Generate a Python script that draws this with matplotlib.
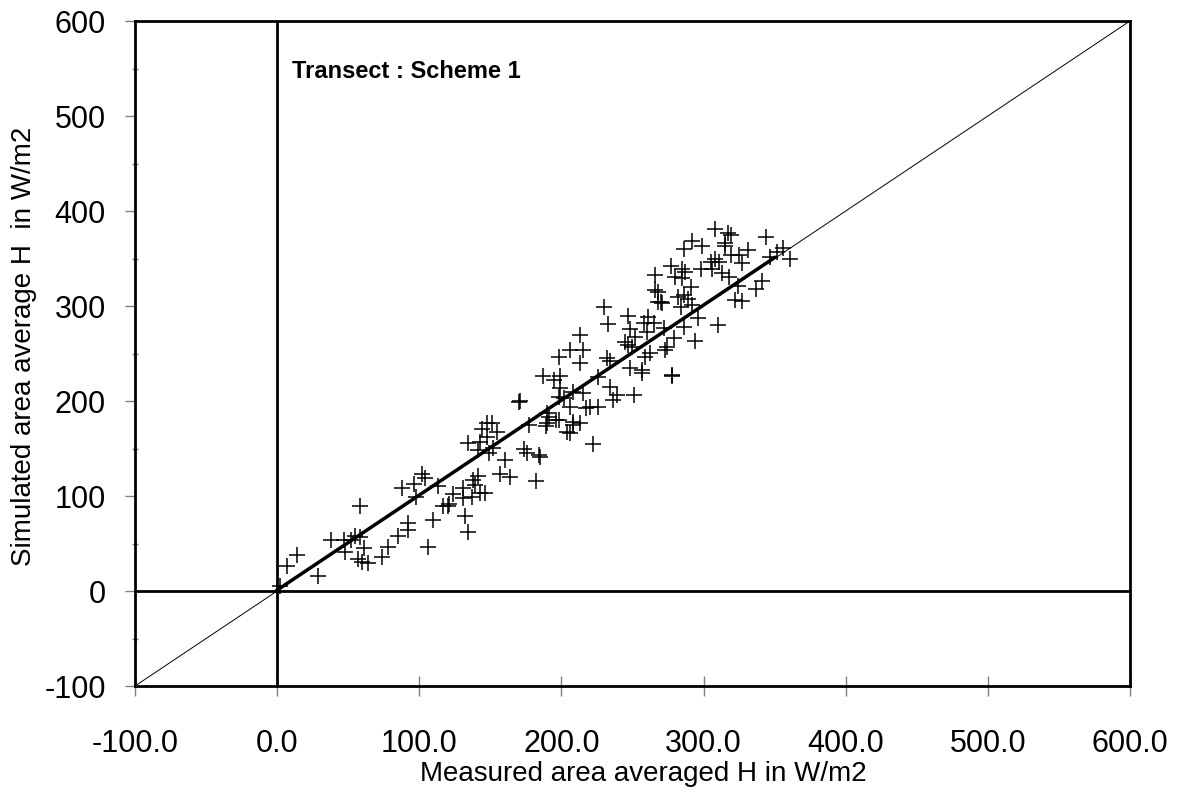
import matplotlib.pyplot as plt
from matplotlib.ticker import MultipleLocator, FormatStrFormatter

# measured vs simulated area averaged H (W/m2)
measured = [
    2, 7, 14, 29, 38, 47, 48, 52, 55, 58, 58, 61, 57, 60, 64, 74, 78, 85, 92, 92,
    106, 110, 88, 96, 102, 104, 98, 113, 117,
    187, 195, 199, 199, 198, 202, 170, 171, 190, 190, 196, 204, 177, 148, 151, 144,
    155, 148, 134, 143, 141, 152, 149, 174, 176, 185, 160, 157, 164, 182, 141, 138,
    139, 131, 143, 146, 124, 131, 137, 121, 120, 132, 134,
    268, 268, 271, 282, 230, 233, 247, 248, 261, 258, 265, 260, 252, 245, 247, 250,
    272, 279, 274, 273, 262, 259, 232, 234, 248, 257, 278, 213, 206, 215, 198, 213,
    226, 234, 239, 251, 236, 208, 215, 206, 217, 220, 226, 191, 198, 189, 208, 213,
    208, 206, 222, 184,
    308, 317, 319, 315, 315, 344, 292, 299, 286, 331, 319, 325, 327, 308, 305, 311,
    347, 356, 352, 361, 277, 285, 287, 298, 306, 266, 280, 285, 313, 318, 291, 266,
    270, 286, 289, 292, 284, 324, 341, 337, 322, 327, 296, 310, 286, 294, 257, 278,
]
simulated = [
    5, 26, 38, 16, 54, 54, 41, 54, 58, 57, 90, 45, 34, 31, 30, 36, 46, 58, 72, 64,
    46, 75, 108, 113, 123, 119, 99, 111, 89,
    226, 222, 226, 214, 204, 203, 199, 200, 187, 177, 180, 167, 175, 177, 177, 171,
    167, 162, 156, 157, 148, 151, 145, 149, 145, 141, 138, 123, 120, 116, 121, 117,
    112, 108, 103, 103, 102, 98, 99, 92, 89, 79, 62,
    315, 304, 303, 309, 299, 281, 290, 276, 288, 282, 282, 273, 267, 262, 259, 257,
    277, 266, 257, 254, 251, 246, 245, 242, 235, 233, 226, 270, 254, 254, 246, 240,
    225, 215, 206, 206, 201, 210, 208, 194, 193, 194, 194, 183, 180, 174, 178, 177,
    175, 166, 155, 143,
    381, 377, 375, 366, 363, 373, 368, 363, 360, 359, 354, 354, 345, 349, 346, 346,
    352, 361, 357, 350, 342, 339, 336, 339, 339, 333, 331, 329, 335, 331, 320, 317,
    304, 312, 307, 301, 299, 321, 326, 318, 306, 305, 287, 280, 278, 263, 229, 227,
]

# fitted line
fit_range = [0, 350]
fit_slope = 1.0
fit_intercept = 1.0

plt.rcParams['font.family'] = ['Liberation Sans', 'DejaVu Sans']
plt.rcParams['axes.unicode_minus'] = False

fig = plt.figure(figsize=(11.8, 7.93), dpi=100)
ax = fig.add_axes([0.1144, 0.1349, 0.8432, 0.8386])

ax.plot([-100, 600], [-100, 600], color='black', lw=0.7)
ax.axhline(0, color='black', lw=2)
ax.axvline(0, color='black', lw=2)
ax.plot(fit_range, [fit_intercept + fit_slope * v for v in fit_range],
        color='black', lw=2.5)
ax.plot(measured, simulated, linestyle='none', marker='+', color='black',
        markersize=11, markeredgewidth=1.1)

ax.set_xlim(-100, 600)
ax.set_ylim(-100, 600)
ax.xaxis.set_major_locator(MultipleLocator(100))
ax.xaxis.set_major_formatter(FormatStrFormatter('%.1f'))
ax.yaxis.set_major_locator(MultipleLocator(100))
ax.yaxis.set_minor_locator(MultipleLocator(50))

for s in ax.spines.values():
    s.set_linewidth(2)
ax.tick_params(axis='x', direction='inout', length=14, width=1, color='grey',
               labelsize=22, pad=24)
ax.tick_params(axis='y', which='major', direction='out', length=7, width=1,
               color='grey', labelsize=22, pad=14)
ax.tick_params(axis='y', which='minor', direction='inout', length=5, width=1,
               color='grey')

ax.set_xlabel('Measured area averaged H in W/m2', fontsize=20)
ax.xaxis.set_label_coords(0.511, -0.112)
ax.set_ylabel('Simulated area average H  in W/m2', fontsize=20)
ax.yaxis.set_label_coords(-0.098, 0.511)
ax.text(0.158, 0.924, 'Transect : Scheme 1', transform=ax.transAxes,
        fontsize=17, fontweight='bold', va='center', ha='left')

fig.savefig('out.png', dpi=100)
